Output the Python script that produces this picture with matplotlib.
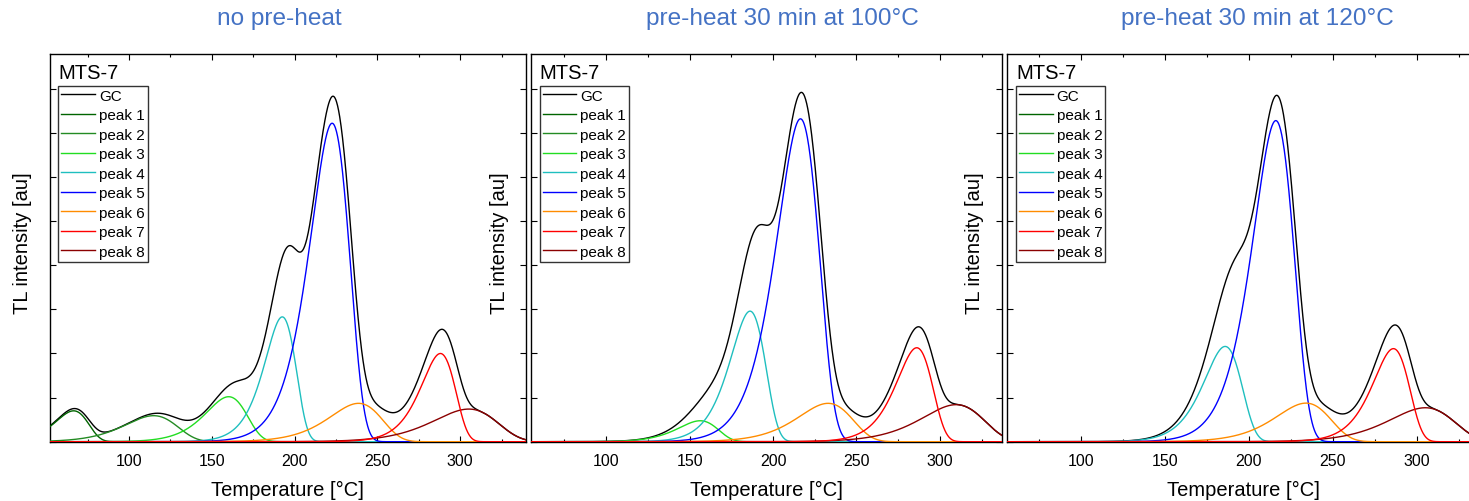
import numpy as np
import matplotlib
matplotlib.use("Agg")
import matplotlib.pyplot as plt
from matplotlib.ticker import MultipleLocator, NullFormatter

plt.rcParams['font.family'] = ['Liberation Sans', 'DejaVu Sans']

# ---------------- data ----------------
panel_titles = ["no pre-heat", "pre-heat 30 min at 100\u00b0C", "pre-heat 30 min at 120\u00b0C"]
sample_label = "MTS-7"
peak_names = ["peak 1", "peak 2", "peak 3", "peak 4", "peak 5", "peak 6", "peak 7", "peak 8"]
peak_colors = ["#006400", "#238B23", "#22DD22", "#1FBFBF", "#0000FF", "#FF8C00", "#FF0000", "#8B0000"]
x_ticks = [100, 150, 200, 250, 300]

# peak maximum temperature Tm [deg C], peak height Im [au], activation energy E [eV]
tm_nopre = [66.5, 114.7, 160.1, 192.5, 222.6, 238.5, 288.0, 305.0]
im_nopre = [0.70, 0.59, 1.02, 2.83, 7.22, 0.87, 2.00, 0.74]
e_nopre = [0.97, 0.79, 1.27, 1.95, 1.75, 1.39, 2.60, 1.45]

tm_pre100 = [67.5, 114.7, 156.3, 186.2, 216.4, 232.9, 286.1, 309.6]
im_pre100 = [0.0, 0.0, 0.475, 2.96, 7.32, 0.87, 2.13, 0.84]
e_pre100 = [0.97, 0.79, 1.30, 1.70, 1.60, 1.32, 2.47, 1.54]

tm_pre120 = [67.5, 114.7, 156.3, 185.8, 216.0, 233.9, 286.1, 305.0]
im_pre120 = [0.0, 0.0, 0.0, 2.16, 7.28, 0.875, 2.11, 0.77]
e_pre120 = [0.97, 0.79, 1.30, 1.58, 1.65, 1.32, 2.47, 1.45]

panels = [(tm_nopre, im_nopre, e_nopre),
          (tm_pre100, im_pre100, e_pre100),
          (tm_pre120, im_pre120, e_pre120)]

x_limits = [(52.0, 339.7), (54.8, 337.4), (56.0, 337.5)]
y_top = 8.79

KB = 8.617e-5


def first_order_peak(t_c, im, tm_c, e):
    """Kitis first-order glow-peak shape."""
    t = t_c + 273.15
    tm = tm_c + 273.15
    d = 2 * KB * t / e
    dm = 2 * KB * tm / e
    x = e / (KB * t) * (t - tm) / tm
    return im * np.exp(1 + x - (t ** 2 / tm ** 2) * np.exp(x) * (1 - d) - dm)


# ---------------- layout ----------------
W, H = 1469, 502
fig = plt.figure(figsize=(W / 100, H / 100), dpi=100)

# axes boxes in pixels: (left, right)
ax_px = [(49.5, 526.0), (530.7, 1002.3), (1007.3, 1479.6)]
top_px, bottom_px = 55.0, 442.7
title_x = [279, 782, 1257]
ylabel_x = [22.5, 499.5, 975.0]

T = np.linspace(40, 360, 1500)

for i, (lp, rp) in enumerate(ax_px):
    ax = fig.add_axes([lp / W, (H - bottom_px) / H, (rp - lp) / W, (bottom_px - top_px) / H])
    tms, ims, es = panels[i]
    curves = [first_order_peak(T, im, tm, e) for tm, im, e in zip(tms, ims, es)]
    gc = np.sum(curves, axis=0)
    ax.plot(T, gc, color="black", lw=1.0, label="GC", zorder=2)
    for k, (c, name, col) in enumerate(zip(curves, peak_names, peak_colors)):
        ax.plot(T, c, color=col, lw=1.0, label=name, zorder=3 + (5 if k == 6 else 0))

    ax.set_xlim(*x_limits[i])
    ax.set_ylim(0, y_top)
    ax.xaxis.set_major_locator(MultipleLocator(50))
    ax.xaxis.set_minor_locator(MultipleLocator(25))
    ax.yaxis.set_major_locator(MultipleLocator(1))
    ax.yaxis.set_major_formatter(NullFormatter())
    ax.set_xticks(x_ticks)
    ax.tick_params(axis="both", which="both", direction="in", top=True, right=True, width=0.8)
    ax.tick_params(axis="both", which="major", length=4.5, labelsize=11.5, pad=8)
    ax.tick_params(axis="both", which="minor", length=2.2)
    for s in ax.spines.values():
        s.set_linewidth(1.0)

    ax.set_xlabel("Temperature [\u00b0C]", fontsize=14.5, labelpad=8.5)

    wpx = rp - lp
    hpx = bottom_px - top_px
    ax.text(8.8 / wpx, 1 - 9 / hpx, sample_label, transform=ax.transAxes,
            ha="left", va="top", fontsize=14.5)
    leg = ax.legend(loc="upper left", bbox_to_anchor=(8.8 / wpx, (bottom_px - 86.7) / hpx),
                    borderaxespad=0, fontsize=11, labelspacing=0.36, handlelength=2.2,
                    handletextpad=0.25, borderpad=0.2, fancybox=False, framealpha=1)
    leg.get_frame().set_edgecolor("#333333")
    leg.get_frame().set_linewidth(1.0)

    fig.text(title_x[i] / W, 1 - 19.5 / H, panel_titles[i], ha="center", va="center",
             fontsize=17.6, color="#4472C4")
    fig.text(ylabel_x[i] / W, 1 - 243 / H, "TL intensity [au]", rotation=90,
             ha="center", va="center", fontsize=14.5)

fig.savefig("out.png", dpi=100)
